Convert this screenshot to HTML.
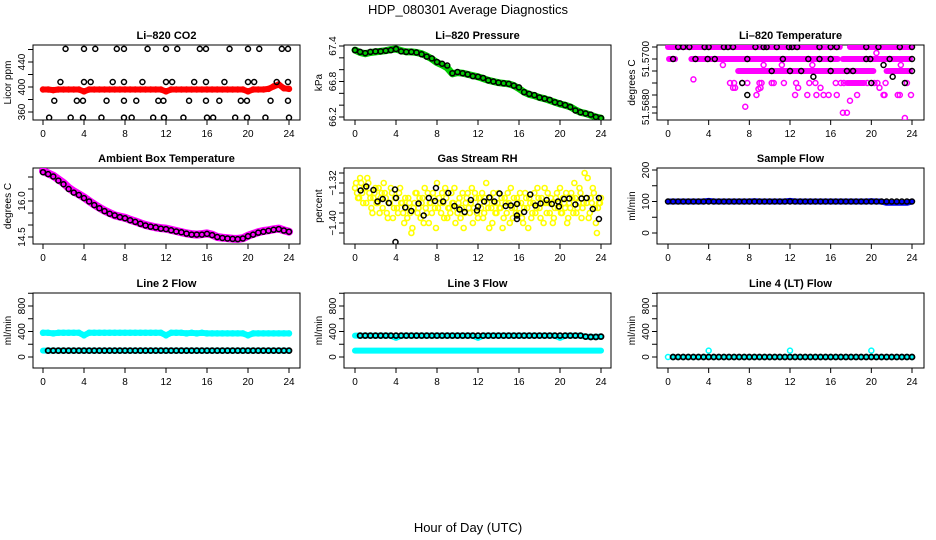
<!DOCTYPE html>
<html><head><meta charset="utf-8">
<style>
html,body{margin:0;padding:0;background:#fff;}
svg{display:block;font-family:"Liberation Sans",sans-serif;}
</style></head>
<body>
<svg id="chart" width="936" height="540" viewBox="0 0 936 540" xmlns="http://www.w3.org/2000/svg">
<text x="468" y="14" text-anchor="middle" font-size="13">HDP_080301  Average Diagnostics</text>
<text x="468" y="532" text-anchor="middle" font-size="13">Hour of Day (UTC)</text>
</svg>
<script>
// ---------------- data ----------------
const xTicks = [0,4,8,12,16,20,24];
const halfHours = [0,0.5,1,1.5,2,2.5,3,3.5,4,4.5,5,5.5,6,6.5,7,7.5,8,8.5,9,9.5,10,10.5,11,11.5,12,12.5,13,13.5,14,14.5,15,15.5,16,16.5,17,17.5,18,18.5,19,19.5,20,20.5,21,21.5,22,22.5,23,23.5,24];

// CO2
const co2Red = [396,396,395,396,396,396,396,396,393,396,396,396,396,396,396,396,396,396,396,396,396,396,396,396,393,396,396,396,396,396,396,396,396,396,396,396,396,396,396,396,393,396,396,396,397,401,404,398,397];
const co2BlackHours = [2.2,4.0,5.1,7.2,7.9,10.2,12.0,13.1,15.3,15.9,18.2,20.0,21.1,23.3,23.9, 1.7,4.0,4.65,6.8,7.9,9.7,12.0,12.6,14.75,15.9,17.7,20.0,20.6,22.8,23.9, 1.1,3.3,3.9,6.2,7.9,9.1,11.25,11.75,14.25,15.9,17.2,19.3,19.9,22.2,23.9, 0.6,2.7,3.9,5.7,7.9,8.65,10.75,11.8,13.7,16.0,16.6,18.75,19.9,21.7,24.0];
const co2BlackValues = [461,461,461,461,461,461,461,461,461,461,461,461,461,461,461, 408,408,408,408,408,408,408,408,408,408,408,408,408,408,408, 378,378,378,378,378,378,378,378,378,378,378,378,378,378,378, 351,351,351,351,351,351,351,351,351,351,351,351,351,351,351];

// Pressure
const presGreen = [67.33,67.29,67.27,67.29,67.30,67.31,67.32,67.34,67.35,67.32,67.30,67.30,67.29,67.27,67.23,67.18,67.12,67.08,67.03,66.93,66.95,66.94,66.92,66.90,66.88,66.85,66.82,66.80,66.78,66.77,66.76,66.73,66.68,66.62,66.58,66.56,66.53,66.51,66.48,66.45,66.42,66.40,66.37,66.32,66.28,66.26,66.23,66.20,66.18];
const presBlack = [67.33,67.30,67.28,67.30,67.31,67.31,67.32,67.33,67.35,67.31,67.30,67.30,67.29,67.26,67.22,67.19,67.13,67.10,67.07,66.94,66.96,66.94,66.92,66.89,66.88,66.86,66.82,66.80,66.78,66.77,66.76,66.73,66.70,66.62,66.59,66.57,66.53,66.51,66.49,66.45,66.43,66.40,66.37,66.31,66.28,66.26,66.24,66.20,66.18];

// Li-820 temperature
const tempBandStart = [0.0,17.9,0.1,2.3,17.2,6.9,21.5,17.6];
const tempBandEnd   = [16.9,24.0,0.7,16.7,23.8,20.2,23.8,19.3];
const tempBandValue = [51.5705,51.5705,51.5700,51.5700,51.5700,51.5695,51.5695,51.5690];
const tempMagHours  = [6.1,6.5,7.3,7.8,9.0,9.2,10.2,10.4,11.4,12.6,13.9,14.5,16.5,17.0,17.3,19.6,20.3,20.6,21.4,23.5, 8.7,12.5,13.7,14.6,15.3,15.8,16.6,18.6,21.2,21.3,22.6,22.8,23.9, 2.5,6.4,6.6,12.8,15.0,20.8,8.9,9.1, 17.9,7.6,17.2,17.6,23.3,20.5,5.4,9.4,11.2,14.2,22.9];
const tempMagValues = [51.5690,51.5690,51.5690,51.5690,51.5690,51.5690,51.5690,51.5690,51.5690,51.5690,51.5690,51.5690,51.5690,51.5690,51.5690,51.5690,51.5690,51.5690,51.5690,51.5690, 51.5685,51.5685,51.5685,51.5685,51.5685,51.5685,51.5685,51.5685,51.5685,51.5685,51.5685,51.5685,51.5685, 51.56915,51.56880,51.56880,51.56880,51.56880,51.56880,51.56875,51.56880, 51.56826,51.56801,51.56776,51.56776,51.56754,51.57025,51.56975,51.56975,51.56975,51.56975,51.56975];
const tempBlackHours  = [1.0,1.5,2.1,3.6,4.0,5.5,5.9,6.4,8.6,9.4,9.7,10.7,11.9,12.2,12.7,14.9,16.0,16.6,19.5,20.7,22.8,24.0, 0.5,2.7,3.9,4.6,7.8,11.3,13.8,14.9,16.0,19.5,19.9,21.8,24.0, 10.2,12.0,13.1,16.0,17.6,18.2,24.0, 7.3,20.0,23.3,14.3,22.1,21.2,7.8];
const tempBlackValues = [51.5705,51.5705,51.5705,51.5705,51.5705,51.5705,51.5705,51.5705,51.5705,51.5705,51.5705,51.5705,51.5705,51.5705,51.5705,51.5705,51.5705,51.5705,51.5705,51.5705,51.5705,51.5705, 51.5700,51.5700,51.5700,51.5700,51.5700,51.5700,51.5700,51.5700,51.5700,51.5700,51.5700,51.5700,51.5700, 51.5695,51.5695,51.5695,51.5695,51.5695,51.5695,51.5695, 51.5690,51.5690,51.5690,51.56926,51.56926,51.56975,51.5685];

// Ambient box temperature
const ambMagenta = [17.25,17.15,17.05,16.9,16.75,16.55,16.4,16.28,16.15,16.0,15.85,15.72,15.6,15.5,15.4,15.35,15.3,15.22,15.15,15.07,15.0,14.95,14.9,14.87,14.85,14.8,14.75,14.7,14.65,14.62,14.6,14.62,14.65,14.6,14.5,14.47,14.45,14.43,14.42,14.45,14.55,14.63,14.7,14.75,14.78,14.82,14.85,14.78,14.72];
const ambBlack   = [17.2,17.12,17.02,16.85,16.7,16.5,16.35,16.25,16.12,15.98,15.83,15.7,15.58,15.47,15.4,15.33,15.28,15.2,15.13,15.05,14.98,14.93,14.9,14.85,14.83,14.78,14.73,14.7,14.64,14.6,14.6,14.6,14.63,14.58,14.5,14.46,14.44,14.42,14.41,14.44,14.53,14.6,14.68,14.72,14.76,14.8,14.83,14.77,14.72];

// Gas stream RH
const rhYellowA = [-1.33,-1.34,-1.35,-1.32,-1.36,-1.33,-1.31,-1.34,-1.37,-1.35,-1.33,-1.36,-1.38,-1.34,-1.32,-1.35,-1.39,-1.36,-1.34,-1.37,-1.35,-1.38,-1.33,-1.36,-1.40,-1.37,-1.35,-1.38,-1.41,-1.36,-1.34,-1.37,-1.39,-1.35,-1.33,-1.38,-1.40,-1.36,-1.34,-1.37,-1.32,-1.35,-1.38,-1.36,-1.33,-1.39,-1.37,-1.34,-1.36,-1.40,-1.38,-1.35,-1.37,-1.41,-1.36,-1.34,-1.38,-1.33,-1.37,-1.35,-1.39,-1.36,-1.34,-1.38,-1.32,-1.37,-1.35,-1.40,-1.36,-1.38,-1.34,-1.37,-1.41,-1.35,-1.38,-1.36,-1.33,-1.39,-1.37,-1.35,-1.38,-1.36,-1.40,-1.34,-1.37,-1.35,-1.39,-1.36,-1.38,-1.33,-1.37,-1.35,-1.40,-1.36,-1.34,-1.38,-1.36,-1.39,-1.35,-1.37,-1.33,-1.38,-1.36,-1.34,-1.39,-1.37,-1.35,-1.32,-1.38,-1.36,-1.34,-1.37,-1.30,-1.36,-1.39,-1.35,-1.33,-1.37,-1.42,-1.36,-1.35];
const rhYellowB = [-1.32,-1.35,-1.31,-1.34,-1.33,-1.36,-1.32,-1.35,-1.38,-1.34,-1.36,-1.33,-1.35,-1.37,-1.34,-1.38,-1.36,-1.33,-1.39,-1.35,-1.37,-1.34,-1.36,-1.38,-1.35,-1.39,-1.36,-1.42,-1.37,-1.34,-1.38,-1.35,-1.36,-1.40,-1.37,-1.34,-1.36,-1.38,-1.35,-1.41,-1.37,-1.36,-1.34,-1.39,-1.35,-1.37,-1.38,-1.36,-1.33,-1.37,-1.36,-1.39,-1.34,-1.38,-1.35,-1.37,-1.36,-1.40,-1.34,-1.38,-1.35,-1.37,-1.39,-1.35,-1.36,-1.41,-1.37,-1.34,-1.38,-1.36,-1.37,-1.35,-1.39,-1.36,-1.34,-1.40,-1.37,-1.35,-1.38,-1.36,-1.34,-1.39,-1.37,-1.35,-1.41,-1.36,-1.38,-1.34,-1.37,-1.35,-1.39,-1.36,-1.33,-1.38,-1.36,-1.35,-1.40,-1.37,-1.34,-1.36,-1.38,-1.35,-1.37,-1.40,-1.36,-1.34,-1.38,-1.35,-1.37,-1.33,-1.39,-1.36,-1.35,-1.31,-1.38,-1.36,-1.34,-1.40,-1.37,-1.36];
const rhBlackHours  = [0.55,1.1,1.8,2.2,2.7,3.3,3.9,4.0,3.95,4.9,5.5,6.2,6.7,7.2,7.8,7.9,8.6,9.1,9.7,10.2,10.7,11.3,11.9,12.0,12.6,13.1,13.6,14.1,14.7,15.2,15.8,15.8,15.8,16.5,17.1,17.6,18.1,18.7,19.2,19.8,19.9,20.4,20.9,21.5,22.1,22.6,23.2,23.8,23.8];
const rhBlackValues = [-1.335,-1.327,-1.334,-1.357,-1.352,-1.360,-1.333,-1.350,-1.438,-1.369,-1.376,-1.361,-1.385,-1.350,-1.356,-1.330,-1.357,-1.340,-1.366,-1.373,-1.378,-1.354,-1.375,-1.367,-1.357,-1.349,-1.357,-1.341,-1.366,-1.365,-1.362,-1.385,-1.392,-1.378,-1.343,-1.365,-1.361,-1.354,-1.362,-1.357,-1.367,-1.352,-1.351,-1.363,-1.351,-1.350,-1.372,-1.350,-1.392];

// Flows (half-hourly)
const sampleBlue  = [100,100,100,100,100,100,100,100,102,100,100,100,100,100,100,100,100,101,100,100,100,100,100,100,102,100,100,100,100,100,100,100,100,100,100,100,100,100,100,100,101,100,100,96,96,96,96,96,100];
const sampleBlack = [100,100,100,100,100,100,100,100,100,100,100,100,100,100,100,100,100,100,100,100,100,100,100,100,100,100,100,100,100,100,100,100,100,100,100,100,100,100,100,100,100,100,100,100,100,100,100,100,100];
const line2CyanHigh = [380,380,370,380,380,380,380,380,340,380,380,380,380,380,380,380,380,380,380,380,380,380,380,380,340,380,380,380,370,380,370,380,370,370,370,370,370,370,370,370,340,370,370,370,370,370,370,370,370];
const line2CyanLow  = [100,100,100,100,100,100,100,100,100,100,100,100,100,100,100,100,100,100,100,100,100,100,100,100,100,100,100,100,100,100,100,100,100,100,100,100,100,100,100,100,100,100,100,100,100,100,100,100,100];
const line2Black    = [null,100,100,100,100,100,100,100,100,100,100,100,100,100,100,100,100,100,100,100,100,100,100,100,100,100,100,100,100,100,100,100,100,100,100,100,100,100,100,100,100,100,100,100,100,100,100,100,100];
const line3CyanHigh = [335,335,335,335,335,335,335,335,300,335,335,335,335,335,335,335,335,335,335,335,335,335,335,335,300,335,335,335,335,335,335,335,335,335,335,335,335,335,335,335,300,335,335,335,335,320,315,315,320];
const line3CyanLow  = [100,100,100,100,100,100,100,100,100,100,100,100,100,100,100,100,100,100,100,100,100,100,100,100,100,100,100,100,100,100,100,100,100,100,100,100,100,100,100,100,100,100,100,100,100,100,100,100,100];
const line3Black    = [null,335,335,335,335,335,335,335,335,335,335,335,335,335,335,335,335,335,335,335,335,335,335,335,335,335,335,335,335,335,335,335,335,335,335,335,335,335,335,335,335,335,335,335,335,320,315,315,320];
const line4Cyan  = [0,0,0,0,0,0,0,0,100,0,0,0,0,0,0,0,0,0,0,0,0,0,0,0,100,0,0,0,0,0,0,0,0,0,0,0,0,0,0,0,100,0,0,0,0,0,0,0,0];
const line4Black = [null,0,0,0,0,0,0,0,0,0,0,0,0,0,0,0,0,0,0,0,0,0,0,0,0,0,0,0,0,0,0,0,0,0,0,0,0,0,0,0,0,0,0,0,0,0,0,0,0];

// ---------------- drawing ----------------
const NS = "http://www.w3.org/2000/svg";
const svg = document.getElementById('chart');
const cols = [{bx0:33,bx1:300,h0:43,h24:289},{bx0:344,bx1:611,h0:355,h24:601},{bx0:657,bx1:924,h0:668,h24:912}];
const rows = [{by0:45,by1:120},{by0:168,by1:244},{by0:293,by1:368}];
function mk(tag, attrs, parent){const e=document.createElementNS(NS,tag);for(const k in attrs)e.setAttribute(k,attrs[k]);(parent||svg).appendChild(e);return e;}

function makePanel(c, r, name, title, ylab, v1, y1, v2, y2, ticks, labels){
  const C=cols[c], R=rows[r];
  const g=mk('g',{});
  
  
  const xs=h=>C.h0+h*(C.h24-C.h0)/24;
  const ys=v=>y1+(v-v1)*(y2-y1)/(v2-v1);
  const t=mk('text',{x:(C.bx0+C.bx1)/2,y:R.by0-6,'text-anchor':'middle','font-size':11,'font-weight':'bold'},g);
  t.textContent=title;
  
  
  const box=mk('rect',{x:C.bx0,y:R.by0,width:C.bx1-C.bx0,height:R.by1-R.by0,fill:'none',stroke:'#000','stroke-width':1},g);
  
  
  const xa=mk('g',{},g);
  
  
  mk('line',{x1:xs(0),x2:xs(24),y1:R.by1,y2:R.by1,stroke:'#000'},xa);
  xTicks.forEach(h=>{
    mk('line',{x1:xs(h),x2:xs(h),y1:R.by1,y2:R.by1+5,stroke:'#000'},xa);
    const l=mk('text',{x:xs(h),y:R.by1+17,'text-anchor':'middle','font-size':10},xa);
    l.textContent=h;
  });
  const ya=mk('g',{},g);
  
  
  ticks.forEach(v=>{mk('line',{x1:C.bx0-5,x2:C.bx0,y1:ys(v),y2:ys(v),stroke:'#000'},ya);});
  labels.forEach(([v,txt])=>{
    const y=ys(v), x=C.bx0-8;
    const l=mk('text',{x:x,y:y,'text-anchor':'middle','font-size':10,transform:`rotate(-90 ${x} ${y})`},ya);
    l.textContent=txt;
  });
  const ym=(R.by0+R.by1)/2, yx=C.bx0-22;
  const yl=mk('text',{x:yx,y:ym,'text-anchor':'middle','font-size':10,transform:`rotate(-90 ${yx} ${ym})`},g);
  yl.textContent=ylab;
  
  
  const clipId='clip'+c+r;
  const cp=mk('clipPath',{id:clipId},g);
  mk('rect',{x:C.bx0,y:R.by0,width:C.bx1-C.bx0,height:R.by1-R.by0},cp);
  const plot=mk('g',{'clip-path':`url(#${clipId})`},g);
  return {xs,ys,plot};
}
function points(P, hours, vals, color, name, sw){
  const g=mk('g',{},P.plot);
  
  
  vals.forEach((v,i)=>{
    if(v===null||v===undefined)return;
    mk('circle',{cx:P.xs(hours[i]),cy:P.ys(v),r:2.5,fill:'none',stroke:color,'stroke-width':sw||1.5},g);
  });
}
function band(P, hours, vals, color, name, w){
  let d='';
  vals.forEach((v,i)=>{ if(v===null)return; d+=(d?'L':'M')+P.xs(hours[i]).toFixed(1)+' '+P.ys(v).toFixed(1); });
  const p=mk('path',{d:d,fill:'none',stroke:color,'stroke-width':w||5,'stroke-linejoin':'round','stroke-linecap':'round'},P.plot);
  
  
}

// Panel 1: CO2
const P1=makePanel(0,0,'co2','Li\u2013820 CO2','Licor ppm',400,87,360,112,[360,380,400,420,440,460],[[360,'360'],[400,'400'],[440,'440']]);
band(P1,halfHours,co2Red,'#ff0000','co2-red-band',6);
points(P1,halfHours,co2Red,'#ff0000','co2-red-points',1.5);
points(P1,co2BlackHours,co2BlackValues,'#000','co2-black-points');

// Panel 2: Pressure
const P2=makePanel(1,0,'pressure','Li\u2013820 Pressure','kPa',67.4,46,66.2,117,[66.2,66.4,66.6,66.8,67.0,67.2,67.4],[[66.2,'66.2'],[66.8,'66.8'],[67.4,'67.4']]);
band(P2,halfHours,presGreen,'#00cc00','pressure-green-band',7);
points(P2,halfHours,presGreen,'#00cc00','pressure-green-points',1.5);
points(P2,halfHours,presBlack,'#000','pressure-black-points');

// Panel 3: Li-820 temperature
const P3=makePanel(2,0,'li820-temp','Li\u2013820 Temperature','degrees C',51.5700,59,51.5680,107,[51.5705,51.5700,51.5695,51.5690,51.5685,51.5680,51.56775],[[51.5700,'51.5700'],[51.5680,'51.5680']]);
(function(){
  const g=mk('g',{},P3.plot);
  
  
  tempBandValue.forEach((v,i)=>{
    mk('line',{x1:P3.xs(tempBandStart[i]),x2:P3.xs(tempBandEnd[i]),y1:P3.ys(v),y2:P3.ys(v),stroke:'#ff00ff','stroke-width':6,'stroke-linecap':'round'},g);
  });
})();
points(P3,tempMagHours,tempMagValues,'#ff00ff','li820-temp-magenta-points',1.5);
points(P3,tempBlackHours,tempBlackValues,'#000','li820-temp-black-points');

// Panel 4: Ambient box temperature
const P4=makePanel(0,1,'ambient-temp','Ambient Box Temperature','degrees C',16.0,201,14.5,237,[14.5,15.0,15.5,16.0,16.5,17.0],[[14.5,'14.5'],[16.0,'16.0']]);
band(P4,halfHours,ambMagenta,'#ff00ff','ambient-magenta-band',8);
points(P4,halfHours,ambMagenta,'#ff00ff','ambient-magenta-points',1.5);
points(P4,halfHours,ambBlack,'#000','ambient-black-points');

// Panel 5: Gas stream RH
const rhHoursA=rhYellowA.map((v,i)=>i*0.2);
const rhHoursB=rhYellowB.map((v,i)=>0.1+i*0.2);
const P5=makePanel(1,1,'gas-rh','Gas Stream RH','percent',-1.32,183,-1.40,223,[-1.30,-1.32,-1.34,-1.36,-1.38,-1.40,-1.42],[[-1.32,'\u22121.32'],[-1.40,'\u22121.40']]);
points(P5,rhHoursA,rhYellowA,'#ffff00','rh-yellow-points-a',1.6);
points(P5,rhHoursB,rhYellowB,'#ffff00','rh-yellow-points-b',1.6);
points(P5,rhBlackHours,rhBlackValues,'#000','rh-black-points');

// Panel 6: Sample flow
const P6=makePanel(2,1,'sample-flow','Sample Flow','ml/min',0,233,200,170,[0,50,100,150,200],[[0,'0'],[100,'100'],[200,'200']]);
band(P6,halfHours,sampleBlue,'#0000ff','sample-blue-band',6);
points(P6,halfHours,sampleBlack,'#000','sample-black-points');

// Panel 7: Line 2 flow
const P7=makePanel(0,2,'line2-flow','Line 2 Flow','ml/min',0,357,800,306,[0,200,400,600,800,1000],[[0,'0'],[400,'400'],[800,'800']]);
band(P7,halfHours,line2CyanHigh,'#00ffff','line2-cyan-high',6);
band(P7,halfHours,line2CyanLow,'#00ffff','line2-cyan-low',6);
points(P7,halfHours,line2CyanHigh,'#00ffff','line2-cyan-high-points',1.5);
points(P7,halfHours,line2Black,'#000','line2-black-points',1.8);

// Panel 8: Line 3 flow
const P8=makePanel(1,2,'line3-flow','Line 3 Flow','ml/min',0,357,800,306,[0,200,400,600,800,1000],[[0,'0'],[400,'400'],[800,'800']]);
band(P8,halfHours,line3CyanHigh,'#00ffff','line3-cyan-high',6);
band(P8,halfHours,line3CyanLow,'#00ffff','line3-cyan-low',6);
points(P8,halfHours,line3Black,'#000','line3-black-points',1.8);

// Panel 9: Line 4 flow
const P9=makePanel(2,2,'line4-flow','Line 4 (LT) Flow','ml/min',0,357,800,306,[0,200,400,600,800,1000],[[0,'0'],[400,'400'],[800,'800']]);
band(P9,halfHours,line4Black,'#00ffff','line4-cyan-band',4);
points(P9,halfHours,line4Cyan,'#00ffff','line4-cyan-points',1.5);
points(P9,halfHours,line4Black,'#000','line4-black-points',1.8);
</script>
</body></html>
